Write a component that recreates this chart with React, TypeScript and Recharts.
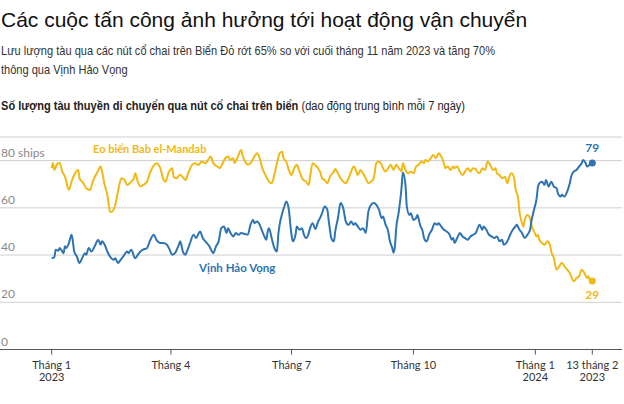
import { LineChart, Line, XAxis, YAxis, CartesianGrid, ReferenceDot, ReferenceLine } from "recharts";

// ngày tính từ 1/1/2023, số tàu (trung bình 7 ngày)
const babElMandab: [number, number][] = [
  [0, 76.8], [1, 79], [2, 76], [4, 78.5], [6, 79], [8, 75.4], [10, 73.2], [13, 67.6], [15, 71.1],
  [17, 73.9], [20, 76], [21, 72.5], [24, 70.4], [26, 68.3], [29, 67.6], [31, 71.1], [34, 74.6],
  [37, 77.5], [38, 75.4], [40, 69.7], [42, 65.5], [44, 58.5], [45, 58.2], [48, 61.3], [50, 66.9],
  [52, 71.8], [53, 72.5], [55, 71.8], [57, 69.7], [60, 71.1], [62, 72.5], [63, 74.6], [65, 71.1],
  [67, 69], [69, 69.7], [72, 71.1], [74, 74.6], [77, 77.9], [79, 78.9], [82, 76.8], [84, 72.5],
  [86, 71.1], [88, 74.6], [91, 76.8], [92, 73.2], [94, 72.5], [97, 74], [99, 73], [101, 71.8],
  [103, 74.6], [106, 78.2], [108, 78.9], [111, 78.2], [113, 79.6], [116, 78.9], [118, 80.3],
  [120, 81.7], [122, 78.9], [125, 77.5], [127, 76.8], [129, 78.9], [131, 81], [133, 81.7],
  [135, 80.3], [137, 81], [138, 78.9], [140, 81], [143, 84.5], [144, 82.4], [146, 79.6],
  [148, 78.2], [151, 79.6], [153, 81.7], [155, 83.1], [157, 81], [159, 76.8], [162, 73.2],
  [164, 71.1], [166, 70.4], [168, 73.9], [170, 78.9], [172, 83.1], [174, 83.8], [175, 81],
  [177, 79.6], [179, 76], [181, 73.9], [183, 76.8], [185, 78.2], [187, 75.4], [189, 72.5],
  [190, 71.8], [192, 71.1], [194, 69.7], [195, 73.2], [197, 78.9], [199, 78], [201, 76.8],
  [203, 74.6], [204, 72.5], [206, 71.8], [208, 70.4], [210, 73.2], [213, 75.4], [214, 76.5],
  [216, 74.6], [218, 72.5], [220, 71.1], [222, 70.4], [224, 72.5], [226, 75.4], [228, 77.5],
  [229, 76.8], [231, 73.9], [233, 76], [235, 74.6], [237, 72.5], [239, 70.4], [241, 71.1],
  [243, 72.5], [245, 78.9], [247, 79.6], [249, 78.2], [250, 76.8], [252, 75.4], [254, 76.8],
  [256, 78.2], [258, 76], [260, 78.2], [262, 76.8], [264, 75.4], [265, 78.9], [267, 76],
  [269, 74.6], [271, 75.4], [273, 74.6], [275, 77.5], [277, 78.2], [279, 79.6], [281, 78.9],
  [282, 80.3], [284, 79.6], [286, 81], [288, 82.4], [290, 81], [292, 83.1], [294, 81.7],
  [296, 78.9], [297, 76.8], [299, 77.5], [301, 76], [303, 77.5], [304, 76.8], [306, 77.5],
  [308, 75.4], [310, 73.9], [312, 75.4], [314, 76.8], [316, 75.4], [318, 76.8], [320, 76.5],
  [321, 75.4], [323, 74.6], [325, 76.8], [327, 76], [329, 79.6], [331, 78.2], [333, 76],
  [335, 76.8], [336, 74.6], [338, 73.9], [340, 72.5], [342, 73.2], [344, 70.4], [345, 72.5],
  [347, 74.6], [349, 72.5], [350, 68.3], [352, 64.1], [353, 58.5], [355, 53.5], [356, 52.1],
  [357, 54.9], [359, 57], [361, 55.6], [362, 52.8], [364, 50], [366, 47.9], [367, 48.6],
  [368, 46.5], [370, 45.1], [372, 44.4], [374, 45.8], [376, 44.4], [377, 41.5], [379, 38.7],
  [381, 33.8], [383, 35.2], [385, 36.6], [387, 35.2], [389, 33.8], [391, 32.4], [392, 31],
  [394, 28.9], [396, 30.3], [398, 31], [400, 33.8], [402, 32.4], [404, 30.3], [405, 31],
  [406, 29.6], [408, 29],
];

const capeOfGoodHope: [number, number][] = [
  [0, 38.7], [2, 39], [3, 42.3], [5, 41.8], [6, 43], [8, 41.5], [9, 40.8], [10, 43.7], [11, 43],
  [13, 45.1], [15, 48.6], [16, 45.8], [17, 41.5], [19, 39.4], [21, 36.6], [23, 38.7], [25, 40.8],
  [26, 40.1], [28, 43], [30, 41.5], [33, 44.4], [35, 46.5], [37, 44.4], [38, 45.8], [40, 44.4],
  [42, 41.5], [44, 39.4], [47, 38], [48, 38.7], [50, 36.6], [52, 38], [54, 39.4], [57, 41.5],
  [58, 40.8], [60, 42.3], [63, 38.7], [65, 40.1], [67, 41.5], [69, 42.3], [72, 43], [74, 45.8],
  [77, 48.6], [79, 46.5], [82, 45.1], [84, 45.1], [87, 44.4], [89, 42.3], [91, 40.1], [93, 40.8],
  [96, 44.4], [97, 45.8], [99, 41.5], [101, 40.1], [102, 41.5], [104, 44.4], [107, 48.6],
  [109, 47.2], [111, 49.3], [112, 50], [114, 47.2], [116, 45.8], [119, 43.7], [121, 41.5],
  [122, 40.8], [124, 43.7], [126, 45.8], [128, 51.4], [130, 52.1], [132, 49.3], [133, 51.4],
  [135, 49.3], [137, 47.9], [139, 49.3], [141, 48.6], [143, 49.3], [146, 48.9], [148, 48.6],
  [150, 52.8], [152, 54.9], [153, 53.5], [155, 54.2], [157, 52.8], [158, 51.4], [160, 48.6],
  [162, 46.5], [163, 50], [164, 51.4], [166, 47.2], [168, 43], [170, 41.5], [171, 48.6],
  [172, 52.8], [174, 57.7], [176, 61.3], [177, 62.7], [179, 59.2], [180, 53.5], [181, 48.6],
  [182, 45.8], [184, 48.6], [185, 52.1], [187, 50.7], [189, 51.4], [190, 49.3], [192, 47.2],
  [194, 49.3], [195, 51.4], [197, 53.5], [199, 51], [201, 54], [203, 56.3], [204, 57.7],
  [206, 60.6], [208, 59.2], [209, 54.9], [210, 50.7], [211, 47.2], [213, 45.8], [214, 50],
  [216, 55.6], [218, 62], [220, 59.9], [222, 54.2], [224, 52.8], [226, 54.2], [228, 52.8],
  [229, 53.5], [231, 52.1], [233, 50.7], [235, 51.4], [237, 49.3], [239, 58.5], [241, 61.3],
  [243, 62], [245, 61.3], [247, 59.2], [249, 55.6], [250, 56.3], [252, 52.8], [254, 50],
  [255, 46.5], [257, 43], [258, 41], [259, 43.7], [260, 51.4], [262, 58.5], [264, 68.3],
  [265, 75], [267, 69.7], [268, 60.6], [270, 57], [271, 57.7], [273, 54.9], [275, 55.6],
  [276, 57], [278, 52.8], [280, 50], [281, 47.2], [283, 45.8], [285, 48.9], [287, 50.7],
  [289, 53.5], [291, 52.8], [292, 53.5], [294, 52.1], [296, 50.7], [298, 50], [300, 48.9],
  [302, 46.5], [303, 47.2], [304, 45.1], [306, 47.2], [308, 49.3], [310, 47.9], [312, 47.2],
  [314, 46.5], [316, 47.9], [318, 48.6], [320, 49.3], [321, 50.7], [323, 52.8], [325, 50.7],
  [326, 52.1], [328, 50.7], [330, 48.6], [332, 47.9], [334, 47.2], [336, 47.9], [338, 45.8],
  [340, 46.5], [341, 44.4], [343, 45.1], [345, 47.2], [346, 48.6], [348, 50.7], [350, 52.1],
  [351, 52.8], [353, 50.7], [355, 49.3], [357, 47.2], [359, 48.6], [361, 50.7], [362, 54.2],
  [364, 59.2], [366, 64.1], [367, 69], [368, 70.4], [370, 71.1], [372, 69.7], [373, 71.8],
  [375, 69], [377, 71.1], [379, 69], [381, 68.3], [382, 66.2], [384, 64.8], [385, 65.5],
  [387, 64.8], [389, 66.9], [391, 70.4], [392, 73.2], [394, 75.4], [396, 76], [398, 77.5],
  [400, 78.9], [401, 80.3], [403, 78.9], [404, 77.5], [406, 78.2], [408, 79],
];

const yTicks = [0, 20, 40, 60, 80];
const yTickLabels = ["0", "20", "40", "60", "80 ships"];
const xTicks = [0, 90, 181, 273, 365, 408];
const xTickLabels = [
  ["Tháng 1", "2023"],
  ["Tháng 4"],
  ["Tháng 7"],
  ["Tháng 10"],
  ["Tháng 1", "2024"],
  ["13 tháng 2", "2023"],
];

const GOLD = "#F0B914";
const BLUE = "#2F74B2";
const LABEL_FONT = "Lato, 'Liberation Sans', sans-serif";
const TEXT_FONT = "'Liberation Sans', Arial, sans-serif";

const goldData = babElMandab.map(([day, value]) => ({ day, value }));
const blueData = capeOfGoodHope.map(([day, value]) => ({ day, value }));

function endDot(color: string, count: number, above: boolean) {
  return (props: any) => {
    const key = `dot-${props.index}`;
    if (props.index !== count - 1) return <g key={key} />;
    return (
      <g key={key}>
        <circle cx={props.cx} cy={props.cy} r={3.5} fill={color} />
        <text
          x={props.cx}
          y={above ? props.cy - 11 : props.cy + 18}
          textAnchor="middle"
          fill={color}
          fontSize={12}
          fontWeight={700}
          fontFamily={LABEL_FONT}
        >
          {Math.round(props.payload.value)}
        </text>
      </g>
    );
  };
}

const XTick = (props: any) => {
  const i = xTicks.indexOf(props.payload.value);
  const lines = xTickLabels[i] || [];
  return (
    <text x={props.x} y={props.y + 12} textAnchor="middle" fill="#333" fontSize={11} fontFamily={LABEL_FONT}>
      {lines.map((l, j) => (
        <tspan key={j} x={props.x} dy={j === 0 ? 0 : 12.5}>
          {l}
        </tspan>
      ))}
    </text>
  );
};

// nhãn trục tung nằm trên đường lưới, sát lề trái
const yLabel = (text: string) => (p: any) => (
  <text x={p.viewBox.x + 1} y={p.viewBox.y - 4} textAnchor="start" fill="#8a8a8a" fontSize={12} fontFamily={LABEL_FONT}>
    {text}
  </text>
);

export default function App() {
  return (
    <div
      style={{
        position: "absolute",
        left: 0,
        top: 0,
        width: 624,
        height: 404,
        background: "#fff",
        fontFamily: TEXT_FONT,
        overflow: "hidden",
      }}
    >
      <div style={{ position: "absolute", left: 1, top: 7, fontSize: 21, lineHeight: "26px", color: "#111", whiteSpace: "nowrap" }}>
        Các cuộc tấn công ảnh hưởng tới hoạt động vận chuyển
      </div>
      <div
        style={{
          position: "absolute",
          left: 1,
          top: 41,
          fontSize: 13,
          lineHeight: "19px",
          color: "#333",
          whiteSpace: "nowrap",
          transform: "scaleX(0.85)",
          transformOrigin: "0 0",
        }}
      >
        Lưu lượng tàu qua các nút cổ chai trên Biển Đỏ rớt 65% so với cuối tháng 11 năm 2023 và tăng 70%
        <br />
        thông qua Vịnh Hảo Vọng
      </div>
      <div
        style={{
          position: "absolute",
          left: 1,
          top: 97,
          fontSize: 12.5,
          lineHeight: "18px",
          color: "#222",
          whiteSpace: "nowrap",
          transform: "scaleX(0.885)",
          transformOrigin: "0 0",
        }}
      >
        <b>Số lượng tàu thuyền di chuyển qua nút cổ chai trên biển</b> (dao động trung bình mỗi 7 ngày)
      </div>
      <div style={{ position: "absolute", left: 0, top: 0 }}>
        <LineChart width={624} height={404} margin={{ top: 137, right: 2, left: 0, bottom: 14.5 }}>
          <CartesianGrid vertical={false} stroke="#cfcfcf" />
          <XAxis
            type="number"
            dataKey="day"
            domain={[-39, 430.4]}
            ticks={xTicks}
            interval={0}
            height={40}
            tickSize={5}
            axisLine={{ stroke: "#555" }}
            tickLine={{ stroke: "#555" }}
            tick={<XTick />}
          />
          <YAxis type="number" domain={[0, 90]} ticks={yTicks} interval={0} width={0} hide />
          {yTicks.map((v, i) => (
            <ReferenceLine key={v} y={v} stroke="none" label={yLabel(yTickLabels[i])} />
          ))}
          <Line
            data={goldData}
            dataKey="value"
            type="monotone"
            stroke={GOLD}
            strokeWidth={2}
            dot={endDot(GOLD, goldData.length, false)}
            activeDot={false}
            isAnimationActive={false}
          />
          <Line
            data={blueData}
            dataKey="value"
            type="monotone"
            stroke={BLUE}
            strokeWidth={2}
            dot={endDot(BLUE, blueData.length, true)}
            activeDot={false}
            isAnimationActive={false}
          />
          <ReferenceDot
            x={74}
            y={85}
            r={0}
            stroke="none"
            label={{ value: "Eo biển Bab el-Mandab", position: "center", fill: GOLD, fontSize: 11, fontWeight: 700, fontFamily: LABEL_FONT }}
          />
          <ReferenceDot
            x={140}
            y={34.5}
            r={0}
            stroke="none"
            label={{ value: "Vịnh Hảo Vọng", position: "center", fill: BLUE, fontSize: 11.5, fontWeight: 700, fontFamily: LABEL_FONT }}
          />
        </LineChart>
      </div>
    </div>
  );
}
